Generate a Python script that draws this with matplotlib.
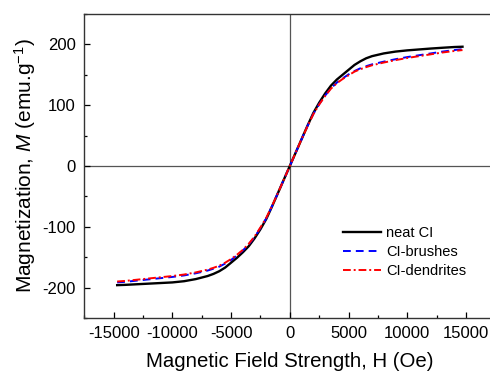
import numpy as np
import matplotlib
matplotlib.use("Agg")
from matplotlib import pyplot as plt
from matplotlib.ticker import MultipleLocator

plt.rcParams['font.family'] = ['Liberation Sans', 'DejaVu Sans']
plt.rcParams['mathtext.fontset'] = 'custom'
plt.rcParams['mathtext.rm'] = 'Liberation Sans'
plt.rcParams['mathtext.it'] = 'Liberation Sans:italic'
plt.rcParams['axes.unicode_minus'] = False

# field (Oe) and magnetization (emu/g)
H = [-14700, -14000, -13000, -12000, -11000, -10000, -9000, -8000, -7000, -6500, -6000,
     -5500, -5000, -4500, -4000, -3500, -3000, -2500, -2000, -1500, -1000, -500, 0,
     500, 1000, 1500, 2000, 2500, 3000, 3500, 4000, 4500, 5000, 5500, 6000, 6500,
     7000, 8000, 9000, 10000, 11000, 12000, 13000, 14000, 14700]
M_neat = [-196, -195.5, -194.5, -193.5, -192.5, -191.5, -189.5, -186, -181, -177.5, -173,
          -167, -159, -151, -142, -132, -119, -104, -87, -66, -44, -22, 0,
          22, 44, 66, 87, 104, 119, 132, 142, 150, 158, 166, 172, 177,
          180.5, 185, 188, 190, 191.5, 193, 194.3, 195.5, 196]
M_brush = [-191.5, -190.5, -188.5, -186.5, -184.5, -182.5, -180, -176.5, -172, -169, -165.5,
           -160.5, -154.5, -147, -139, -129, -117, -102, -86, -65.5, -44, -22, 0,
           22, 44, 65.5, 85.5, 101.5, 115.5, 127.5, 137, 144, 150.5, 156, 160.5, 164,
           167, 171.5, 175.5, 179, 182, 185, 188, 190.5, 192]
M_dend = [-190, -189, -187, -185, -183, -181, -178.5, -175, -170.5, -167.5, -164,
          -159, -153, -146, -138, -128, -116, -101, -85, -65, -44, -22, 0,
          22, 44, 65, 85, 101, 115, 127, 136, 143, 149, 155, 159, 162.5,
          165.5, 170, 174, 177.5, 180.5, 183.5, 186.5, 189, 190.5]

fig = plt.figure(figsize=(4.9, 3.75), dpi=100)
ax = fig.add_axes([0.172, 0.152, 0.839, 0.811])

ax.plot(H, M_neat, color='black', lw=1.7, label='neat CI')
ax.plot(H, M_brush, color='blue', lw=1.4, ls=(0, (4, 2.6)), label='CI-brushes')
ax.plot(H, M_dend, color='red', lw=1.4, ls=(0, (4, 1.5, 1, 1.5)), label='CI-dendrites')

ax.axhline(0, color='#555555', lw=0.9, zorder=0)
ax.axvline(0, color='#555555', lw=0.9, zorder=0)

ax.set_xlim(-17500, 17500)
ax.set_ylim(-250, 250)
ax.set_xticks([-15000, -10000, -5000, 0, 5000, 10000, 15000])
ax.xaxis.set_minor_locator(MultipleLocator(2500))
ax.yaxis.set_major_locator(MultipleLocator(100))
ax.yaxis.set_minor_locator(MultipleLocator(50))
ax.tick_params(which='major', direction='in', length=4, width=0.9, labelsize=12, pad=6)
ax.tick_params(which='minor', direction='in', length=2.5, width=0.9)
for s in ax.spines.values():
    s.set_color('#333333')
    s.set_linewidth(1.0)

ax.set_xlabel('Magnetic Field Strength, H (Oe)', fontsize=14.7, labelpad=8)
ax.set_ylabel(r'Magnetization, $\it{M}$ (emu.g$^{-1}$)', fontsize=15, labelpad=3)

ax.legend(loc='center left', bbox_to_anchor=(0.614, 0.217), borderaxespad=0,
          frameon=False, fontsize=10.5, handlelength=2.67, handletextpad=0.3,
          labelspacing=0.35)

fig.savefig('out.png', dpi=100)
